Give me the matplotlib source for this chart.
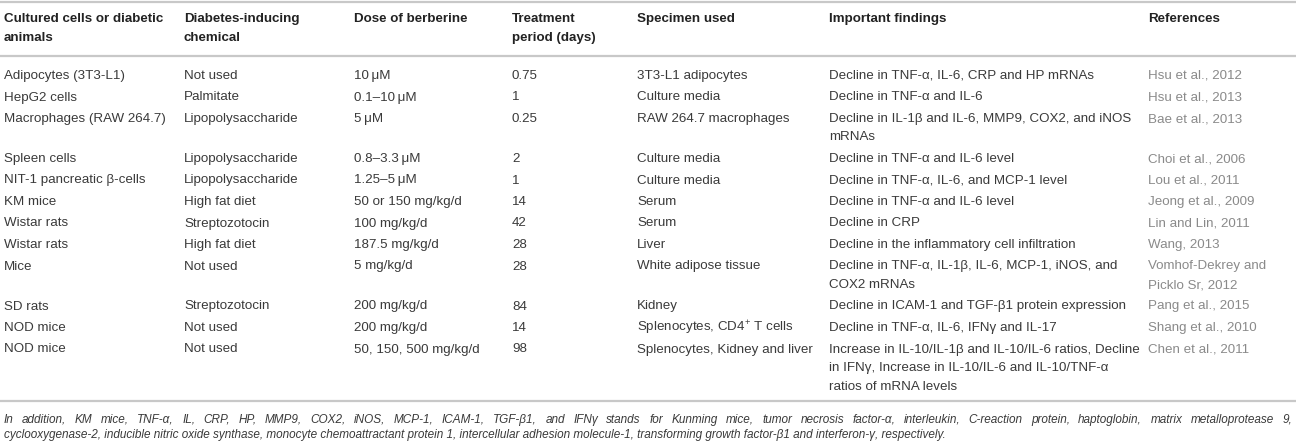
import matplotlib
matplotlib.use("Agg")
import matplotlib.pyplot as plt

plt.rcParams['font.family'] = ['Liberation Sans', 'DejaVu Sans']
plt.rcParams['mathtext.fontset'] = 'custom'
plt.rcParams['mathtext.rm'] = 'Liberation Sans'

# table content
headers = ["Cultured cells or diabetic\nanimals", "Diabetes-inducing\nchemical",
           "Dose of berberine", "Treatment\nperiod (days)", "Specimen used",
           "Important findings", "References"]
animals = ["Adipocytes (3T3-L1)", "HepG2 cells", "Macrophages (RAW 264.7)",
           "Spleen cells", "NIT-1 pancreatic β-cells", "KM mice", "Wistar rats",
           "Wistar rats", "Mice", "SD rats", "NOD mice", "NOD mice"]
chemicals = ["Not used", "Palmitate", "Lipopolysaccharide", "Lipopolysaccharide",
             "Lipopolysaccharide", "High fat diet", "Streptozotocin", "High fat diet",
             "Not used", "Streptozotocin", "Not used", "Not used"]
doses = ["10\u2009μM", "0.1–10\u2009μM", "5\u2009μM", "0.8–3.3\u2009μM", "1.25–5\u2009μM",
         "50 or 150 mg/kg/d", "100 mg/kg/d", "187.5 mg/kg/d", "5 mg/kg/d",
         "200 mg/kg/d", "200 mg/kg/d", "50, 150, 500 mg/kg/d"]
days = ["0.75", "1", "0.25", "2", "1", "14", "42", "28", "28", "84", "14", "98"]
specimens = ["3T3-L1 adipocytes", "Culture media", "RAW 264.7 macrophages",
             "Culture media", "Culture media", "Serum", "Serum", "Liver",
             "White adipose tissue", "Kidney", "Splenocytes, CD4$^{+}$ T cells",
             "Splenocytes, Kidney and liver"]
findings = ["Decline in TNF-α, IL-6, CRP and HP mRNAs",
            "Decline in TNF-α and IL-6",
            "Decline in IL-1β and IL-6, MMP9, COX2, and iNOS\nmRNAs",
            "Decline in TNF-α and IL-6 level",
            "Decline in TNF-α, IL-6, and MCP-1 level",
            "Decline in TNF-α and IL-6 level",
            "Decline in CRP",
            "Decline in the inflammatory cell infiltration",
            "Decline in TNF-α, IL-1β, IL-6, MCP-1, iNOS, and\nCOX2 mRNAs",
            "Decline in ICAM-1 and TGF-β1 protein expression",
            "Decline in TNF-α, IL-6, IFNγ and IL-17",
            "Increase in IL-10/IL-1β and IL-10/IL-6 ratios, Decline\n"
            "in IFNγ, Increase in IL-10/IL-6 and IL-10/TNF-α\nratios of mRNA levels"]
references = ["Hsu et al., 2012", "Hsu et al., 2013", "Bae et al., 2013",
              "Choi et al., 2006", "Lou et al., 2011", "Jeong et al., 2009",
              "Lin and Lin, 2011", "Wang, 2013", "Vomhof-Dekrey and\nPicklo Sr, 2012",
              "Pang et al., 2015", "Shang et al., 2010", "Chen et al., 2011"]
footnote = ["In addition, KM mice, TNF-α, IL, CRP, HP, MMP9, COX2, iNOS, MCP-1, ICAM-1, "
            "TGF-β1, and IFNγ stands for Kunming mice, tumor necrosis factor-α, interleukin, "
            "C-reaction protein, haptoglobin, matrix metalloprotease 9,",
            "cyclooxygenase-2, inducible nitric oxide synthase, monocyte chemoattractant "
            "protein 1, intercellular adhesion molecule-1, transforming growth factor-β1 "
            "and interferon-γ, respectively."]

columns = [animals, chemicals, doses, days, specimens, findings, references]

W, H = 1296, 446
col_x = [4, 184, 354, 512, 637, 829, 1148]
line_color = '#c8c8c8'
text_color = '#3a3a3a'
ref_color = '#8a8a8a'
fs = 9.6
row_pitch = 21.5
line_pitch = 18.5

fig = plt.figure(figsize=(W / 100, H / 100), dpi=100)
ax = fig.add_axes([0, 0, 1, 1])
ax.set_xlim(0, W)
ax.set_ylim(H, 0)
ax.axis('off')

# rules
for y in [2, 56, 401]:
    ax.plot([0, W], [y, y], color=line_color, lw=1.6, solid_capstyle='butt')

# header
for x, h in zip(col_x, headers):
    for k, part in enumerate(h.split('\n')):
        ax.text(x, 19 + k * 19, part, fontsize=fs, fontweight='bold',
                color='#222222', va='center', ha='left')

# body rows
y = 76
for r in range(len(animals)):
    nlines = 1
    for c, (x, col) in enumerate(zip(col_x, columns)):
        parts = col[r].split('\n')
        nlines = max(nlines, len(parts))
        for k, part in enumerate(parts):
            ax.text(x, y + k * line_pitch, part, fontsize=fs,
                    color=ref_color if c == 6 else text_color,
                    va='center', ha='left')
    y += row_pitch + (nlines - 1) * line_pitch

# footnote, first line justified across the width
fig.canvas.draw()
renderer = fig.canvas.get_renderer()
fn_fs = 8.5
words = footnote[0].split(' ')
objs = [ax.text(0, 420, w, fontsize=fn_fs, style='italic', color=text_color,
                va='center', ha='left') for w in words]
widths = [o.get_window_extent(renderer).width for o in objs]
left, right = 4, 1292
gap = (right - left - sum(widths)) / (len(words) - 1)
xpos = left
for o, w in zip(objs, widths):
    o.set_x(xpos)
    xpos += w + gap
ax.text(left, 435, footnote[1], fontsize=fn_fs, style='italic', color=text_color,
        va='center', ha='left')

fig.savefig('out.png', dpi=100)
